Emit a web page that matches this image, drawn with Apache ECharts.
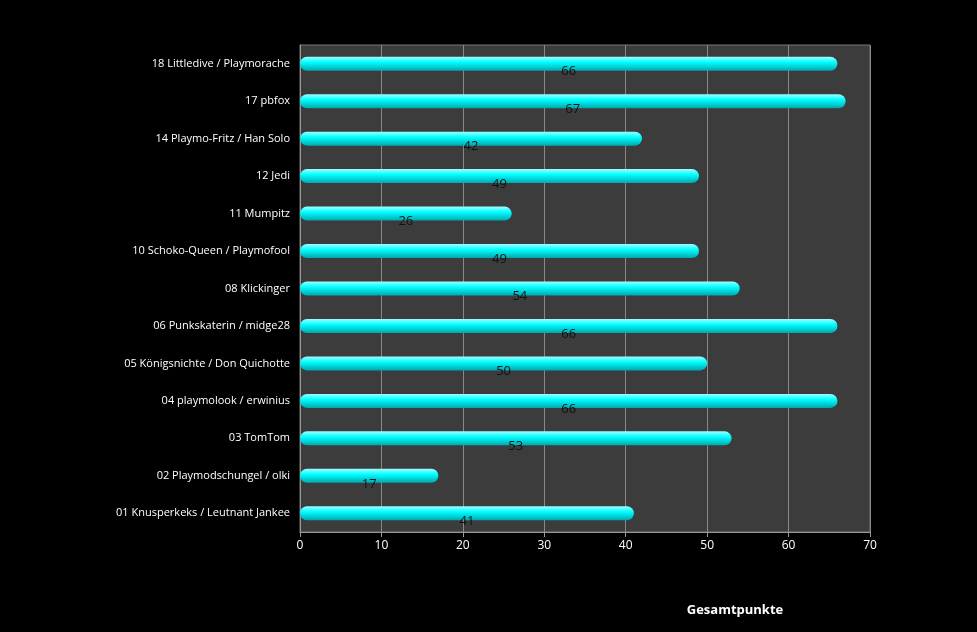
<!DOCTYPE html>
<html><head><meta charset="utf-8">
<script src="https://cdn.jsdelivr.net/npm/echarts@6/dist/echarts.min.js"></script>
<style>html,body{margin:0;background:#000}#c{width:977px;height:632px}</style>
</head><body><div id="c"></div>
<script>
const categories = ["18 Littledive / Playmorache","17 pbfox","14 Playmo-Fritz / Han Solo","12 Jedi","11 Mumpitz","10 Schoko-Queen / Playmofool","08 Klickinger","06 Punkskaterin / midge28","05 Königsnichte / Don Quichotte","04 playmolook / erwinius","03 TomTom","02 Playmodschungel / olki","01 Knusperkeks / Leutnant Jankee"];
const values = [66,67,42,49,26,49,54,66,50,66,53,17,41];
const xTicks = [0,10,20,30,40,50,60,70];
const chart = echarts.init(document.getElementById('c'));
chart.setOption({
  backgroundColor:'#000',
  grid:{left:300,right:107,top:45,bottom:100,show:true,backgroundColor:'#3c3c3c',borderColor:'#777'},
  xAxis:{type:'value',min:xTicks[0],max:xTicks[xTicks.length-1],interval:10,
    name:'Gesamtpunkte',nameLocation:'middle',nameGap:72,
    nameTextStyle:{color:'#fff',fontWeight:'bold',fontSize:13,fontFamily:'Open Sans',padding:[0,0,0,300]},
    axisLabel:{color:'#fff',fontSize:12,fontFamily:'Open Sans'},
    axisLine:{show:true,lineStyle:{color:'#999'}},axisTick:{show:true,lineStyle:{color:'#999'}},
    splitLine:{lineStyle:{color:'#888'}}},
  yAxis:{type:'category',data:categories.slice().reverse(),
    axisLabel:{color:'#fff',fontSize:11,fontFamily:'Open Sans',margin:10},
    axisLine:{lineStyle:{color:'#999'}},axisTick:{show:false}},
  series:[{type:'bar',data:values.slice().reverse(),barWidth:14,
    itemStyle:{borderRadius:7,color:new echarts.graphic.LinearGradient(0,0,0,1,[
      {offset:0,color:'#9ffcff'},{offset:0.4,color:'#00ffff'},{offset:1,color:'#00a8b0'}])},
    label:{show:true,position:'inside',color:'#111',fontSize:13,fontFamily:'Open Sans',offset:[0,8]}}]
});
</script></body></html>
